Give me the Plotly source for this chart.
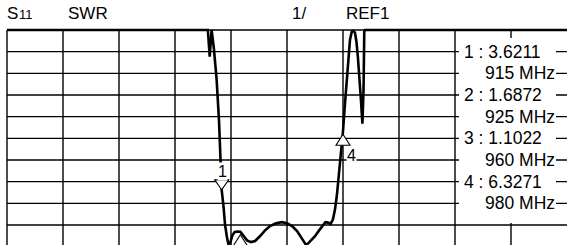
import plotly.graph_objects as go

# ---- data (frequency in MHz, SWR) ----
FREQ_MHZ = [800.0, 907.6, 908.6, 909.5, 909.6, 910.8, 912.3, 913.6, 914.5, 915.0,
            916.0, 916.8, 917.8, 918.7, 919.6, 920.7, 921.9, 923.2, 925.0, 926.7,
            928.6, 930.7, 932.9, 935.5, 938.2, 940.9, 944.1, 947.3, 950.0, 952.7,
            955.4, 957.5, 960.0, 961.2, 962.9, 965.0, 967.1, 969.0, 970.6, 972.0,
            973.3, 974.6, 975.7, 976.7, 977.6, 978.8, 980.0, 981.1, 982.0, 982.8,
            983.75, 984.7, 985.5, 986.4, 987.2, 988.0, 988.8, 989.6, 990.4, 991.0,
            991.4, 991.8, 1100.0]
SWR = [11.0, 11.0, 9.77, 10.97, 11.0, 10.18, 8.71, 6.77, 4.92, 3.6211,
       2.85, 2.02, 1.46, 1.07, 1.18, 1.51, 1.67, 1.70, 1.6872, 1.48,
       1.29, 1.21, 1.26, 1.48, 1.75, 1.95, 2.08, 2.13, 2.08, 1.95,
       1.72, 1.44, 1.1022, 1.14, 1.28, 1.48, 1.74, 1.97, 2.13, 2.11,
       2.05, 2.25, 2.71, 3.35, 4.09, 5.02, 6.3271, 7.65, 8.71, 9.86,
       10.55, 10.92, 10.96, 10.88, 10.46, 9.72, 8.89, 7.78, 6.68, 8.25,
       10.92, 11.0, 11.0]

MARKER_ID = [1, 2, 3, 4]
MARKER_FREQ_MHZ = [915, 925, 960, 980]
MARKER_SWR = [3.6211, 1.6872, 1.1022, 6.3271]
MARKER_DIR = ["down", "up", "up", "up"]

HEADER = ["S", "11", "SWR", "1/", "REF1"]

F_START, F_DIV, N_DIV = 800, 30, 10
S_BOTTOM, S_DIV = 1, 1

# ---- pixel geometry of the screen ----
W, H = 568, 245
X_LEFT_PX = 7.0
PX_PER_XDIV = 56.0
Y_TOP_PX = 30.0
PX_PER_YDIV = 21.667
S_TOP = S_BOTTOM + N_DIV * S_DIV

mhz_per_px = F_DIV / PX_PER_XDIV
swr_per_px = S_DIV / PX_PER_YDIV
x_range = [F_START - X_LEFT_PX * mhz_per_px, F_START - X_LEFT_PX * mhz_per_px + W * mhz_per_px]
y_range = [S_TOP - (H - Y_TOP_PX) * swr_per_px, S_TOP + Y_TOP_PX * swr_per_px]

FONT = "Liberation Sans, Arial, Helvetica, sans-serif"
INK = "#000000"

fig = go.Figure()

shapes = []
# grid
for i in range(N_DIV):
    f = F_START + i * F_DIV
    shapes.append(dict(type="line", xref="x", yref="y", x0=f, x1=f,
                       y0=y_range[0] - 1, y1=S_TOP, line=dict(color=INK, width=1.4), layer="below"))
for j in range(1, N_DIV + 1):
    s = S_BOTTOM + j * S_DIV
    shapes.append(dict(type="line", xref="x", yref="y", x0=F_START, x1=F_START + N_DIV * F_DIV,
                       y0=s, y1=s, line=dict(color=INK, width=1.4), layer="below"))

# trace
fig.add_trace(go.Scatter(x=FREQ_MHZ, y=SWR, mode="lines",
                         line=dict(color=INK, width=2.6), hoverinfo="skip",
                         cliponaxis=False))

# marker readout box
box_x0 = F_START + (459 - X_LEFT_PX) * mhz_per_px
box_x1 = F_START + (556 - X_LEFT_PX) * mhz_per_px
box_y0 = S_TOP - (223 - Y_TOP_PX) * swr_per_px
box_y1 = S_TOP - (38 - Y_TOP_PX) * swr_per_px
shapes.append(dict(type="rect", xref="x", yref="y", x0=box_x0, x1=box_x1, y0=box_y0, y1=box_y1,
                   fillcolor="white", line=dict(width=0), layer="above"))

# marker triangles
half_w = 7 * mhz_per_px
for mid, mf, ms, d in zip(MARKER_ID, MARKER_FREQ_MHZ, MARKER_SWR, MARKER_DIR):
    if d == "down":
        tip = ms
        base = ms + 10 * swr_per_px
    else:
        tip = ms - 3 * swr_per_px
        base = tip - 11 * swr_per_px
    path = f"M {mf - half_w},{base} L {mf + half_w},{base} L {mf},{tip} Z"
    shapes.append(dict(type="path", xref="x", yref="y", path=path,
                       fillcolor="white", line=dict(color=INK, width=1.1), layer="above"))

annotations = []


def px_x(x):
    return x / W


def px_y(y):
    return 1 - y / H


# header
hdr_pos = [(6, 17, 23.5), (17.5, 13, 23.0), (67, 17, 23.5), (291, 17, 23.5), (345, 17, 23.5)]
for txt, (xp, size, yb) in zip(HEADER, hdr_pos):
    annotations.append(dict(text=txt, xref="paper", yref="paper", x=px_x(xp),
                            y=px_y(yb), xanchor="left", yanchor="bottom", showarrow=False,
                            font=dict(family=FONT, size=size, color=INK), borderpad=0))

# marker labels on trace
annotations.append(dict(text=str(MARKER_ID[0]), x=MARKER_FREQ_MHZ[0], y=MARKER_SWR[0],
                        xref="x", yref="y", showarrow=False, yshift=18, xshift=0.5,
                        font=dict(family=FONT, size=16, color=INK), bgcolor="white", borderpad=0))
annotations.append(dict(text=str(MARKER_ID[3]), x=MARKER_FREQ_MHZ[3], y=MARKER_SWR[3],
                        xref="x", yref="y", showarrow=False, yshift=-24, xshift=8,
                        font=dict(family=FONT, size=16, color=INK), bgcolor="white", borderpad=0))

# readout lines
for k, (mid, mf, ms) in enumerate(zip(MARKER_ID, MARKER_FREQ_MHZ, MARKER_SWR)):
    s_val = S_TOP - (2 * k + 1) * S_DIV
    s_frq = S_TOP - (2 * k + 2) * S_DIV
    annotations.append(dict(text=f"{mid} : {ms:.4f}", x=F_START + (463 - X_LEFT_PX) * mhz_per_px,
                            y=s_val, xref="x", yref="y", xanchor="left", yanchor="middle",
                            showarrow=False, font=dict(family=FONT, size=17.5, color=INK), borderpad=0))
    annotations.append(dict(text=f"{mf} MHz", x=F_START + (556 - X_LEFT_PX) * mhz_per_px,
                            y=s_frq, xref="x", yref="y", xanchor="right", yanchor="middle",
                            showarrow=False, font=dict(family=FONT, size=17.5, color=INK), borderpad=0))

fig.update_layout(
    width=W, height=H,
    margin=dict(l=0, r=0, t=0, b=0),
    paper_bgcolor="white", plot_bgcolor="white",
    showlegend=False,
    xaxis=dict(range=x_range, visible=False, showgrid=False, zeroline=False, fixedrange=True),
    yaxis=dict(range=y_range, visible=False, showgrid=False, zeroline=False, fixedrange=True),
    shapes=shapes,
    annotations=annotations,
)

fig.write_html("out.html", config={"displayModeBar": False},
               post_script="document.body.style.margin='0';document.body.style.overflow='hidden';")
